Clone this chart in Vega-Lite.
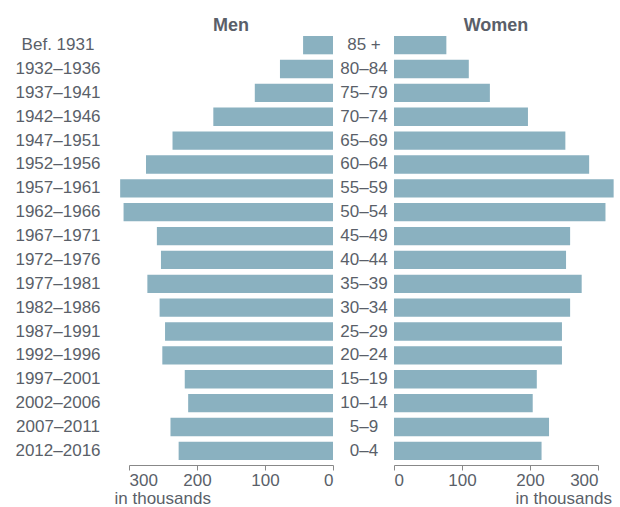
{
  "$schema": "https://vega.github.io/schema/vega-lite/v6.json",
  "padding": {"left": 14, "top": 17, "right": 0, "bottom": 0},
  "bounds": "flush",
  "spacing": 61,
  "config": {
    "view": {"stroke": null},
    "font": "Liberation Sans",
    "axis": {"labelFont": "Liberation Sans", "titleFont": "Liberation Sans", "labelColor": "#5a5f69", "titleColor": "#5a5f69", "labelFontSize": 17, "titleFontSize": 17, "titleFontWeight": "normal", "grid": false, "domainColor": "#888888", "tickColor": "#888888"},
    "title": {"font": "Liberation Sans", "fontSize": 18, "fontWeight": "bold", "color": "#5a5f69", "anchor": "middle", "baseline": "alphabetic", "offset": -4}
  },
  "data": {"values": [
    {"age": "85 +", "birth": "Bef. 1931", "men": 44, "women": 77},
    {"age": "80–84", "birth": "1932–1936", "men": 78, "women": 110},
    {"age": "75–79", "birth": "1937–1941", "men": 115, "women": 141},
    {"age": "70–74", "birth": "1942–1946", "men": 176, "women": 197},
    {"age": "65–69", "birth": "1947–1951", "men": 236, "women": 252},
    {"age": "60–64", "birth": "1952–1956", "men": 275, "women": 287},
    {"age": "55–59", "birth": "1957–1961", "men": 313, "women": 323},
    {"age": "50–54", "birth": "1962–1966", "men": 308, "women": 311},
    {"age": "45–49", "birth": "1967–1971", "men": 259, "women": 259},
    {"age": "40–44", "birth": "1972–1976", "men": 253, "women": 253},
    {"age": "35–39", "birth": "1977–1981", "men": 273, "women": 276},
    {"age": "30–34", "birth": "1982–1986", "men": 255, "women": 259},
    {"age": "25–29", "birth": "1987–1991", "men": 247, "women": 247},
    {"age": "20–24", "birth": "1992–1996", "men": 251, "women": 247},
    {"age": "15–19", "birth": "1997–2001", "men": 218, "women": 210},
    {"age": "10–14", "birth": "2002–2006", "men": 213, "women": 204},
    {"age": "5–9", "birth": "2007–2011", "men": 239, "women": 228},
    {"age": "0–4", "birth": "2012–2016", "men": 227, "women": 217}
  ]},
  "hconcat": [
    {
      "title": "Men",
      "width": 204,
      "height": 434,
      "mark": {"type": "bar", "color": "#8ab1c0"},
      "encoding": {
        "y": {"field": "birth", "type": "nominal", "sort": null,
              "scale": {"paddingInner": 0.233, "paddingOuter": 0.21},
              "axis": {"title": null, "ticks": false, "domain": false, "labelAlign": "center", "labelPadding": 71.5}},
        "x": {"field": "men", "type": "quantitative",
              "scale": {"domain": [0, 300], "reverse": true, "nice": false},
              "axis": {"values": [0, 100, 200, 300], "title": "in thousands", "tickSize": 5, "labelPadding": 2,
                       "titleAlign": "left", "titleAnchor": "start", "titleX": -15, "titleY": 38, "titleBaseline": "alphabetic"}}
      }
    },
    {
      "title": "Women",
      "width": 204,
      "height": 434,
      "mark": {"type": "bar", "color": "#8ab1c0"},
      "encoding": {
        "y": {"field": "age", "type": "nominal", "sort": null,
              "scale": {"paddingInner": 0.233, "paddingOuter": 0.21},
              "axis": {"title": null, "ticks": false, "domain": false, "labelAlign": "center", "labelPadding": 30.5}},
        "x": {"field": "women", "type": "quantitative",
              "scale": {"domain": [0, 300], "nice": false},
              "axis": {"values": [0, 100, 200, 300], "title": "in thousands", "tickSize": 5, "labelPadding": 2,
                       "titleAlign": "right", "titleAnchor": "end", "titleX": 217.4, "titleY": 38, "titleBaseline": "alphabetic"}}
      }
    }
  ]
}
